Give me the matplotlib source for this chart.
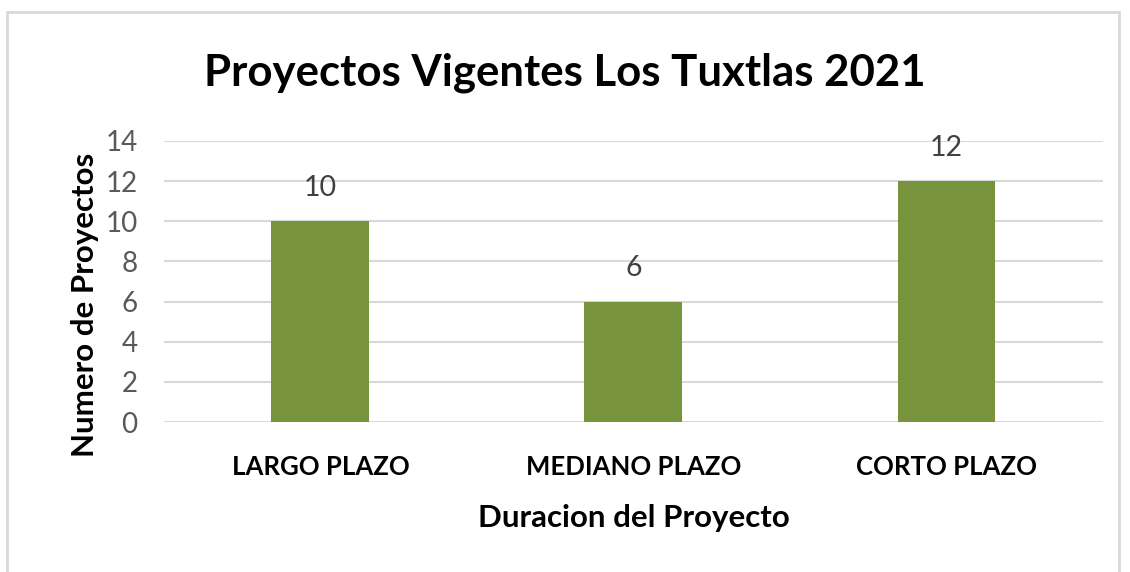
import matplotlib.pyplot as plt
from matplotlib.patches import Rectangle

categories = ['LARGO PLAZO', 'MEDIANO PLAZO', 'CORTO PLAZO']
proyectos = [10, 6, 12]
y_ticks = [0, 2, 4, 6, 8, 10, 12, 14]

plt.rcParams['font.family'] = ['Lato', 'DejaVu Sans']

fig = plt.figure(figsize=(11.3, 5.72), dpi=100)
ax = fig.add_axes([0.1451, 0.2622, 0.8310, 0.4913])

# marco del grafico
fig.patches.append(Rectangle((7 / 1130, -0.01), 1112 / 1130, 1 - 12 / 572 + 0.01,
                             transform=fig.transFigure, fill=False,
                             edgecolor='#D9D9D9', linewidth=2))

x = range(len(categories))
bars = ax.bar(x, proyectos, width=0.313, color='#77933C', zorder=3)

ax.set_xlim(-0.5, 2.5)
ax.set_ylim(0, 14)
ax.set_yticks(y_ticks)
ax.set_xticks(list(x))
ax.set_xticklabels(categories, fontsize=18.5, fontweight='bold', color='black')
ax.tick_params(axis='y', labelsize=20, labelcolor='#595959', length=0, pad=19)
ax.tick_params(axis='x', length=0, pad=24)
ax.grid(axis='y', color='#D9D9D9', linewidth=1.5, zorder=0)
for s in ax.spines.values():
    s.set_visible(False)

for bar in bars:
    h = bar.get_height()
    ax.annotate(str(int(h)), (bar.get_x() + bar.get_width() / 2, h),
                xytext=(0, 24), textcoords='offset points',
                ha='center', va='center', fontsize=20.5, color='#404040')

ax.set_xlabel('Duracion del Proyecto', fontsize=22.5, fontweight='bold', va='center')
ax.xaxis.set_label_coords(0.5, -96 / 281)
ax.set_ylabel('Numero de Proyectos', fontsize=22.5, fontweight='bold', va='center')
ax.yaxis.set_label_coords(-79 / 939, 117 / 281)
fig.text(0.5, 1 - 73 / 572, 'Proyectos Vigentes Los Tuxtlas 2021', ha='center', va='center',
         fontsize=31.5, fontweight='bold')

fig.savefig('out.png', dpi=100)
